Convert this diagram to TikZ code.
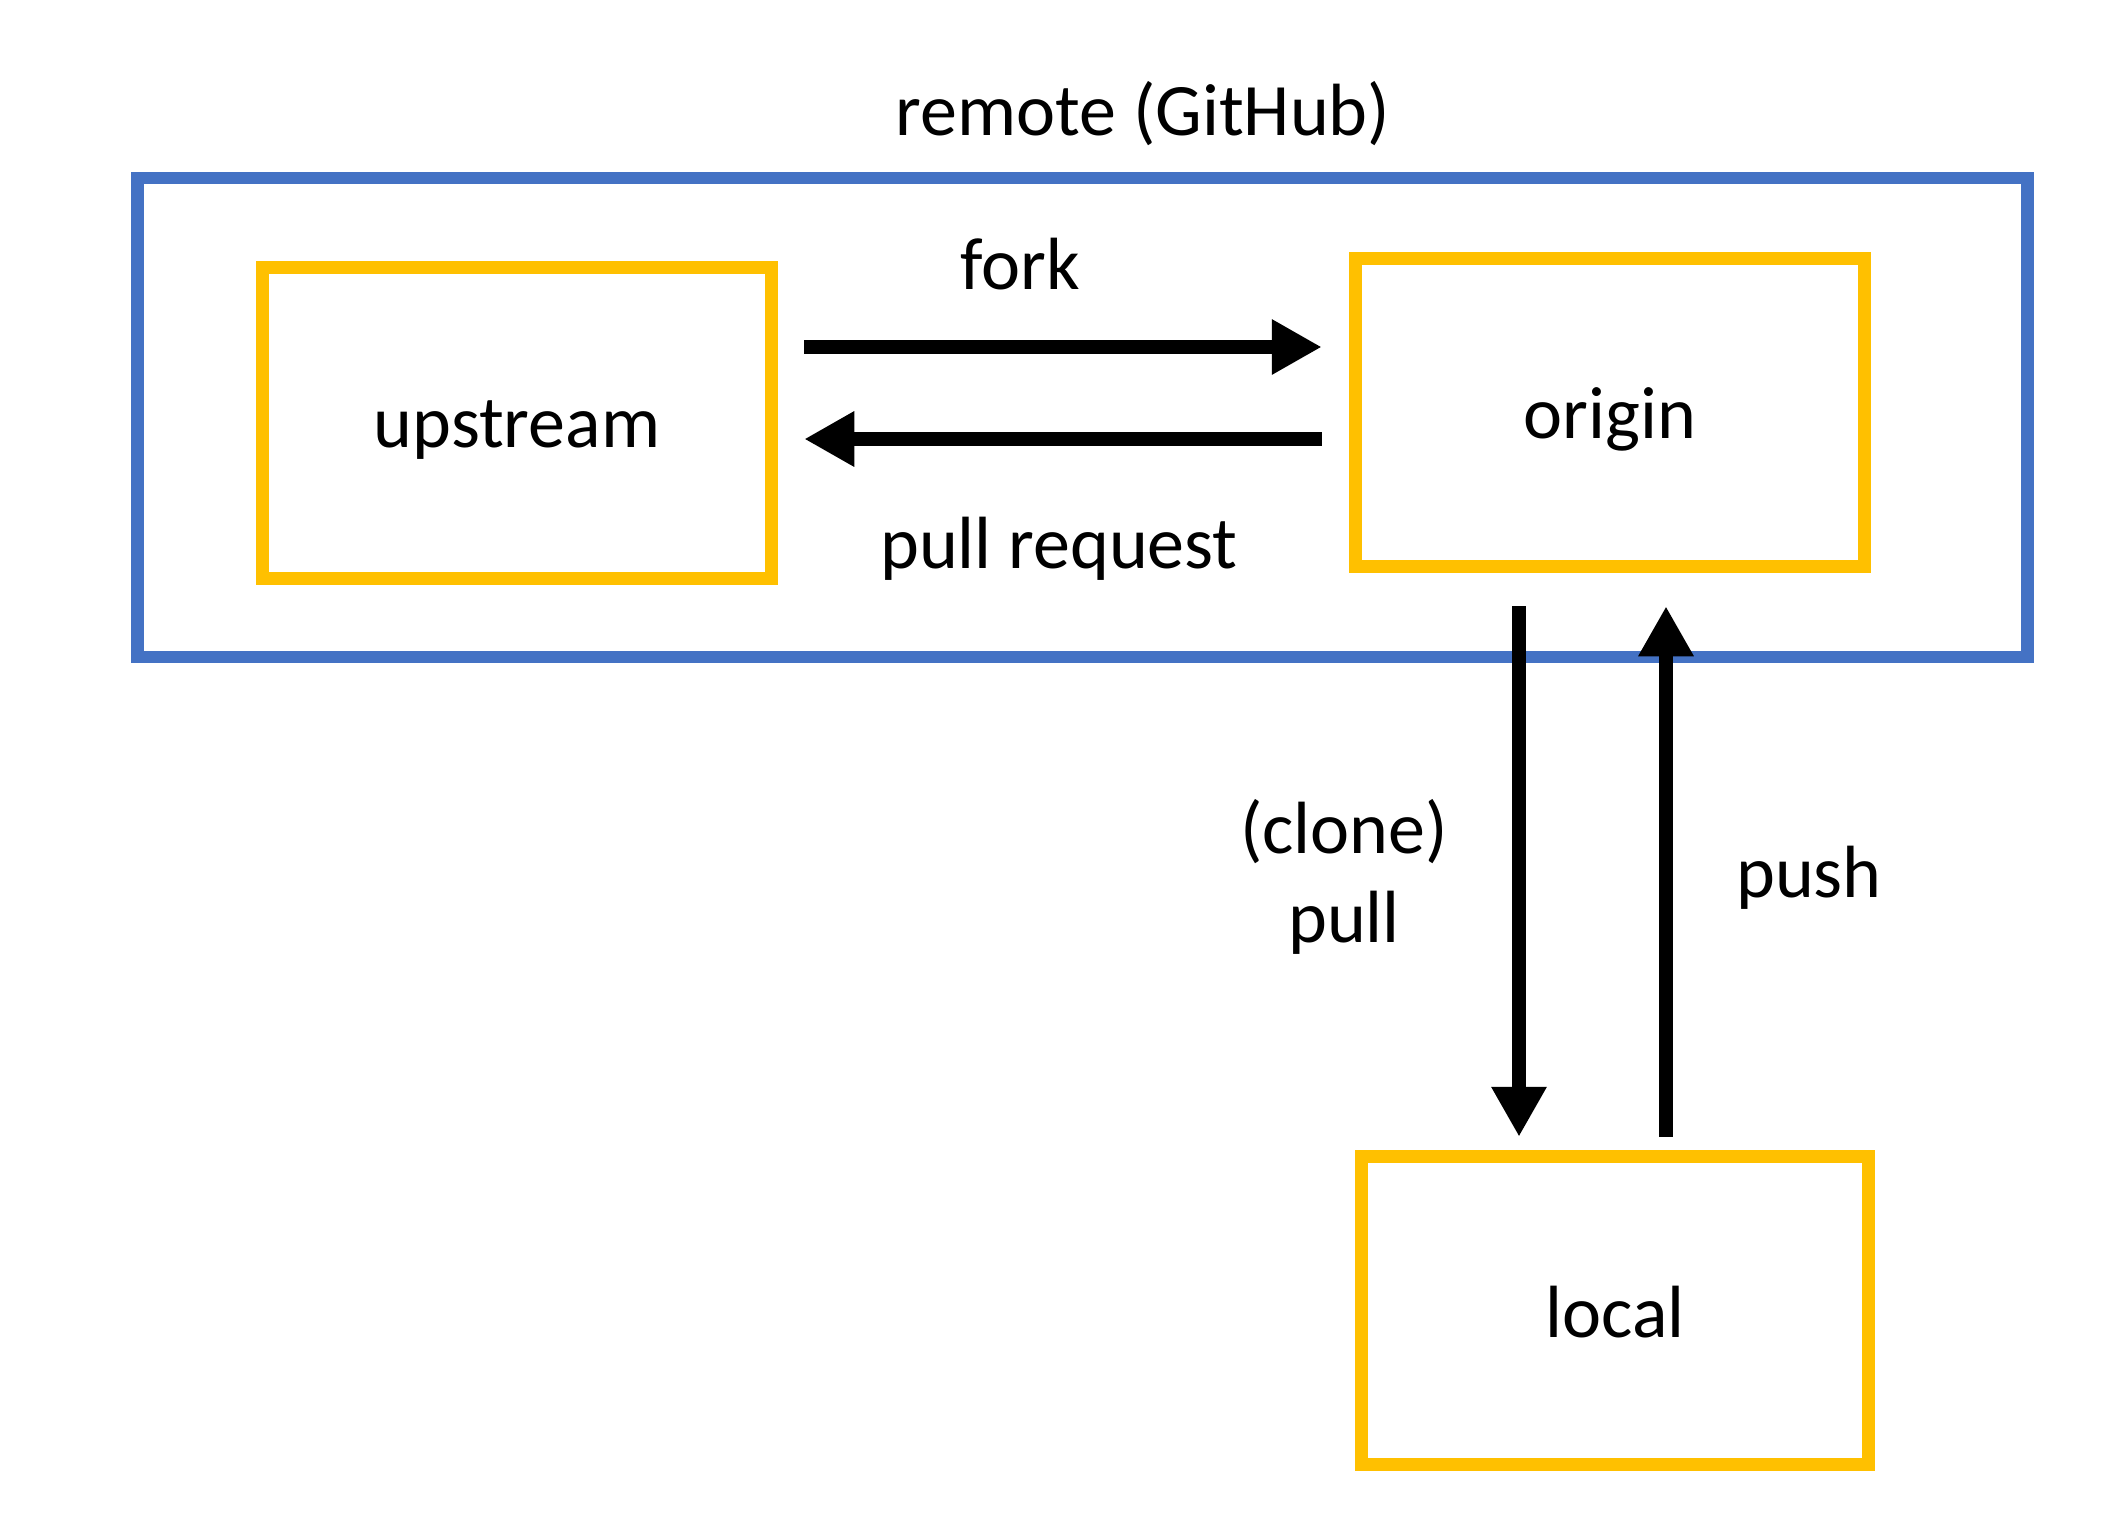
\documentclass[tikz,border=0pt]{standalone}
\usepackage{fontspec}
\setmainfont{Carlito}
\usetikzlibrary{arrows.meta}
\definecolor{remoteblue}{HTML}{4472C4}
\definecolor{boxyellow}{HTML}{FFC000}
\begin{document}
\begin{tikzpicture}[x=1pt,y=-1pt,
  lbl/.style={font=\fontsize{74}{89}\selectfont, inner sep=0pt, align=center},
  repobox/.style={draw=boxyellow, line width=13.5pt, minimum width=509pt, minimum height=311pt},
  flow/.style={line width=13.5pt, -{Triangle[length=50pt,width=52pt]}}]
\useasboundingbox (0,0) rectangle (2126,1535);
\node[draw=remoteblue, line width=12.5pt, minimum width=1890pt, minimum height=479pt, inner sep=0pt] (remote) at (1082.6,417.5) {};
\node[lbl] (remotelbl) at (1143,114) {remote (GitHub)};
\node[repobox, label={[lbl,yshift=-7pt]center:upstream}] (upstream) at (517,423) {};
\node[repobox, minimum height=308pt, label={[lbl,yshift=-7pt]center:origin}] (origin) at (1610,412.5) {};
\node[repobox, minimum width=507pt, minimum height=308pt, label={[lbl,yshift=-2pt]center:local}] (local) at (1615,1310.5) {};
\draw[flow] ([xshift=26pt]upstream.east |- 0,347) -- ([xshift=-27pt]origin.west |- 0,347);
\draw[flow] ([xshift=-27pt]origin.west |- 0,439) -- ([xshift=26pt]upstream.east |- 0,439);
\draw[flow] ([yshift=-33pt]origin.south -| 1519,0) -- ([yshift=13pt]local.north -| 1519,0);
\draw[flow] ([yshift=13pt]local.north -| 1666,0) -- ([yshift=-33pt]origin.south -| 1666,0);
\node[lbl] (forklbl) at (1020,264) {fork};
\node[lbl] (prlbl) at (1059,549) {pull request};
\node[lbl] (pulllbl) at (1344,877) {(clone)\\pull};
\node[lbl] (pushlbl) at (1809,878) {push};
\end{tikzpicture}
\end{document}
